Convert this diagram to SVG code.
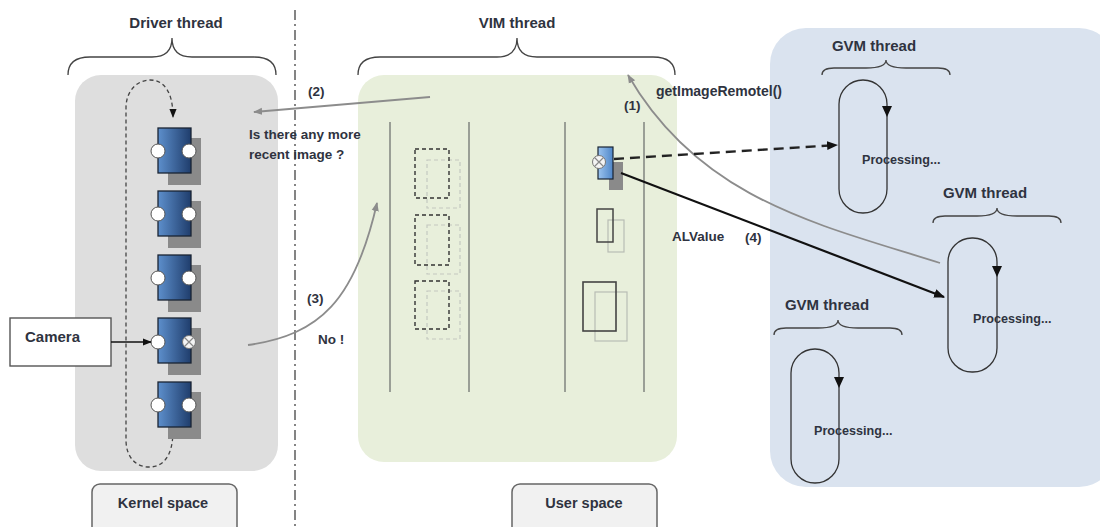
<svg xmlns="http://www.w3.org/2000/svg" width="1100" height="527" viewBox="0 0 1100 527">
  <style>
    .lbl { font-family: "Liberation Sans", Arial, sans-serif; font-size: 13.5px; font-weight: bold; fill: #2f3340; }
    .title { font-size: 15px; }
    .space { font-size: 14.5px; }
    .proc { font-size: 12.6px; }
    .brace { fill: none; stroke: #444; stroke-width: 1.3; }
    .lane { stroke: #9a9f96; stroke-width: 2; }
    .blk { stroke: #1a2433; stroke-width: 1.3; fill: url(#blkGrad); }
    .shadow { fill: #8a8a8a; }
    .port { fill: #fff; stroke: #555; stroke-width: 1; }
    .loop { fill: none; stroke: #333; stroke-width: 1.3; }
    .gray-conn { fill: none; stroke: #8c8c8c; stroke-width: 1.8; }
    .box { fill: #f1f1f1; stroke: #666; stroke-width: 1.5; }
  </style>
  <defs>
    <linearGradient id="blkGrad" x1="0" y1="0" x2="1" y2="0">
      <stop offset="0" stop-color="#5d8fcc"/>
      <stop offset="1" stop-color="#1f3d6c"/>
    </linearGradient>
    <linearGradient id="smallGrad" x1="0" y1="0" x2="1" y2="0">
      <stop offset="0" stop-color="#9cc4ef"/>
      <stop offset="1" stop-color="#4f86c8"/>
    </linearGradient>
    <marker id="arrGray" viewBox="0 0 10 10" refX="9" refY="5" markerWidth="9" markerHeight="9" markerUnits="userSpaceOnUse" orient="auto">
      <path d="M0,1 L10,5 L0,9 Z" fill="#8c8c8c"/>
    </marker>
    <marker id="arrBlack" viewBox="0 0 10 10" refX="9" refY="5" markerWidth="11" markerHeight="11" markerUnits="userSpaceOnUse" orient="auto">
      <path d="M0,1 L10,5 L0,9 Z" fill="#111"/>
    </marker>
    <marker id="arrSmall" viewBox="0 0 10 10" refX="9" refY="5" markerWidth="9" markerHeight="9" markerUnits="userSpaceOnUse" orient="auto">
      <path d="M0,1 L10,5 L0,9 Z" fill="#111"/>
    </marker>
    <g id="xport">
      <circle r="6.5" fill="#f4f4f4" stroke="#777" stroke-width="1"/>
      <path d="M-4.5,-4.5 L4.5,4.5 M-4.5,4.5 L4.5,-4.5" stroke="#888" stroke-width="1.2"/>
    </g>
  </defs>

  <rect width="1100" height="527" fill="#fff"/>

  <!-- space separator -->
  <line x1="295" y1="10" x2="295" y2="527" stroke="#666" stroke-width="1.6" stroke-dasharray="10,4,2,4"/>

  <!-- Driver thread / kernel space -->
  <g id="driver-thread">
    <rect x="75" y="75" width="203" height="396" rx="26" fill="#dedede"/>
    <text class="lbl title" x="176" y="28" text-anchor="middle">Driver thread</text>
    <path class="brace" d="M68,75 Q68,57 90,57 L152,57 Q172,57 172,38 Q172,57 192,57 L254,57 Q276,57 276,75"/>
    <path d="M173,430 C173,458 162,467 149,467 C134,467 126,455 126,440 L126,108 C126,90 138,80 150,80 C164,80 173,92 173,117" fill="none" stroke="#444" stroke-width="1.3" stroke-dasharray="4,3" marker-end="url(#arrSmall)"/>
  </g>

  <g id="buffer-1">
    <rect class="shadow" x="168" y="138" width="33" height="47"/>
    <rect class="blk" x="158" y="128" width="33" height="45"/>
    <circle class="port" cx="158" cy="151" r="7"/>
    <circle class="port" cx="189" cy="151" r="7"/>
  </g>
  <g id="buffer-2">
    <rect class="shadow" x="168" y="201" width="33" height="47"/>
    <rect class="blk" x="158" y="191" width="33" height="45"/>
    <circle class="port" cx="158" cy="214" r="7"/>
    <circle class="port" cx="189" cy="214" r="7"/>
  </g>
  <g id="buffer-3">
    <rect class="shadow" x="168" y="265" width="33" height="47"/>
    <rect class="blk" x="158" y="255" width="33" height="45" stroke-width="2"/>
    <circle class="port" cx="158" cy="278" r="7"/>
    <circle class="port" cx="189" cy="278" r="7"/>
  </g>
  <g id="buffer-4">
    <rect class="shadow" x="168" y="328" width="33" height="47"/>
    <rect class="blk" x="158" y="318" width="33" height="45"/>
    <circle class="port" cx="158" cy="342" r="7"/>
    <use href="#xport" x="189" y="342"/>
  </g>
  <g id="buffer-5">
    <rect class="shadow" x="168" y="392" width="33" height="47"/>
    <rect class="blk" x="158" y="382" width="33" height="45"/>
    <circle class="port" cx="158" cy="405" r="7"/>
    <circle class="port" cx="189" cy="405" r="7"/>
  </g>

  <g id="camera">
    <rect x="10" y="318" width="101" height="48" fill="#fff" stroke="#555" stroke-width="1.4"/>
    <text class="lbl title" x="25" y="342">Camera</text>
  </g>

  <g id="kernel-space">
    <rect class="box" x="92" y="484" width="145" height="52" rx="8"/>
    <text class="lbl space" x="163" y="508" text-anchor="middle">Kernel space</text>
  </g>

  <!-- VIM thread / user space -->
  <g id="vim-thread">
    <rect x="358" y="75" width="319" height="387" rx="26" fill="#e8efdb"/>
    <text class="lbl title" x="517" y="28" text-anchor="middle">VIM thread</text>
    <path class="brace" d="M358,75 Q358,57 380,57 L497,57 Q517,57 517,38 Q517,57 537,57 L653,57 Q675,57 675,75"/>
    <line class="lane" x1="390" y1="122" x2="390" y2="392"/>
    <line class="lane" x1="469" y1="122" x2="469" y2="392"/>
    <line class="lane" x1="565" y1="122" x2="565" y2="392"/>
    <line class="lane" x1="644" y1="122" x2="644" y2="392"/>
    <!-- released frames (dashed) -->
    <g fill="none">
      <rect x="427" y="160" width="33" height="48" stroke="#c4c8c0" stroke-width="1.2" stroke-dasharray="4,3"/>
      <rect x="415" y="149" width="34" height="49" stroke="#333" stroke-width="1.4" stroke-dasharray="4,3"/>
      <rect x="427" y="225" width="33" height="49" stroke="#c4c8c0" stroke-width="1.2" stroke-dasharray="4,3"/>
      <rect x="415" y="215" width="34" height="50" stroke="#333" stroke-width="1.4" stroke-dasharray="4,3"/>
      <rect x="427" y="291" width="33" height="48" stroke="#c4c8c0" stroke-width="1.2" stroke-dasharray="4,3"/>
      <rect x="415" y="281" width="34" height="48" stroke="#333" stroke-width="1.4" stroke-dasharray="4,3"/>
    </g>
    <!-- held frames -->
    <g fill="none">
      <rect x="608" y="220" width="16" height="32" stroke="#b8bcb4" stroke-width="1.2"/>
      <rect x="597" y="209" width="16" height="33" stroke="#444" stroke-width="1.5"/>
      <rect x="595" y="292" width="32" height="49" stroke="#b8bcb4" stroke-width="1.2"/>
      <rect x="583" y="282" width="33" height="49" stroke="#444" stroke-width="1.6"/>
    </g>
  </g>

  <g id="remote-image">
    <rect class="shadow" x="609" y="162" width="14" height="28"/>
    <rect x="598" y="147" width="15" height="32" fill="url(#smallGrad)" stroke="#1a2433" stroke-width="1.2"/>
    <use href="#xport" x="599" y="162"/>
  </g>

  <g id="user-space">
    <rect class="box" x="512" y="484" width="145" height="52" rx="8"/>
    <text class="lbl space" x="584" y="508" text-anchor="middle">User space</text>
  </g>

  <!-- GVM threads -->
  <g id="gvm-panel">
    <rect x="770" y="28" width="345" height="459" rx="36" fill="#dae3ef"/>
  </g>

  <g id="gvm-thread-1">
    <text class="lbl title" x="874" y="51" text-anchor="middle">GVM thread</text>
    <path class="brace" d="M822,75 Q822,68 834,68 L866,68 Q886,68 886,60 Q886,68 906,68 L938,68 Q950,68 950,75"/>
    <rect class="loop" x="839" y="80" width="48" height="133" rx="24"/>
    <path d="M882,106 L892,106 L887,117 Z" fill="#111"/>
    <text class="lbl proc" x="862" y="164">Processing...</text>
  </g>

  <g id="gvm-thread-2">
    <text class="lbl title" x="985" y="198" text-anchor="middle">GVM thread</text>
    <path class="brace" d="M933,223 Q933,216 945,216 L977,216 Q997,216 997,208 Q997,216 1017,216 L1049,216 Q1061,216 1061,223"/>
    <rect class="loop" x="948" y="238" width="49" height="134" rx="24"/>
    <path d="M992,266 L1002,266 L997,277 Z" fill="#111"/>
    <text class="lbl proc" x="973" y="323">Processing...</text>
  </g>

  <g id="gvm-thread-3">
    <text class="lbl title" x="827" y="310" text-anchor="middle">GVM thread</text>
    <path class="brace" d="M774,335 Q774,328 786,328 L818,328 Q838,328 838,320 Q838,328 858,328 L890,328 Q902,328 902,335"/>
    <rect class="loop" x="791" y="349" width="48" height="134" rx="24"/>
    <path d="M834,377 L844,377 L839,388 Z" fill="#111"/>
    <text class="lbl proc" x="814" y="435">Processing...</text>
  </g>

  <!-- connectors -->
  <g id="connectors">
    <line x1="111" y1="342" x2="151" y2="342" stroke="#111" stroke-width="1.5" marker-end="url(#arrSmall)"/>
    <!-- (1) request from GVM -->
    <path class="gray-conn" d="M940,263 C820,225 700,200 628,75" marker-end="url(#arrGray)"/>
    <!-- (2) query to driver -->
    <line class="gray-conn" x1="430" y1="97" x2="254" y2="112" marker-end="url(#arrGray)"/>
    <!-- (3) answer from driver -->
    <path class="gray-conn" d="M248,345 C320,335 355,300 377,203" marker-end="url(#arrGray)"/>
    <!-- shared image -->
    <line x1="614" y1="159" x2="837" y2="145" stroke="#222" stroke-width="2.4" stroke-dasharray="10,6" marker-end="url(#arrBlack)"/>
    <!-- (4) value returned -->
    <line x1="621" y1="173" x2="944" y2="297" stroke="#111" stroke-width="2.2" marker-end="url(#arrBlack)"/>
  </g>

  <g id="connector-labels">
    <text class="lbl" x="308" y="96">(2)</text>
    <text class="lbl" x="249" y="139">Is there any more</text>
    <text class="lbl" x="249" y="159">recent image ?</text>
    <text class="lbl" x="307" y="303">(3)</text>
    <text class="lbl" x="318" y="344">No !</text>
    <text class="lbl" x="624" y="110">(1)</text>
    <text class="lbl" x="656" y="96" style="font-size:14px">getImageRemotel()</text>
    <text class="lbl" x="672" y="241">ALValue</text>
    <text class="lbl" x="745" y="242">(4)</text>
  </g>
</svg>
